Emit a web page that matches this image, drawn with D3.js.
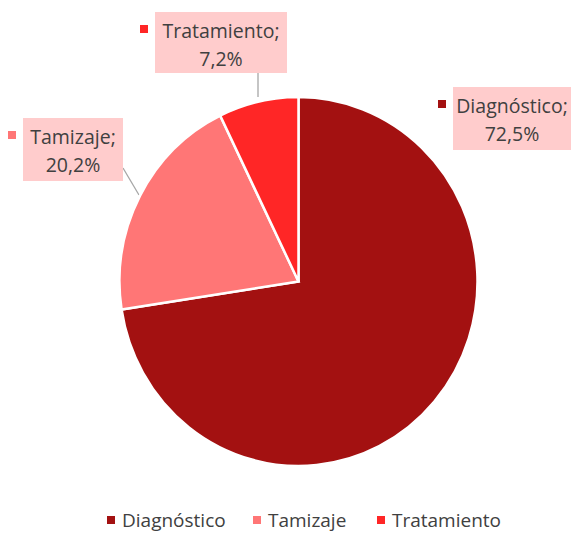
<!DOCTYPE html>
<html>
<head>
<meta charset="utf-8">
<script src="https://cdn.jsdelivr.net/npm/d3@7"></script>
<style>
  body { margin: 0; background: #fff; }
  svg text { font-family: "Open Sans", "Noto Sans", sans-serif; fill: #404040; }
</style>
</head>
<body>
<div id="chart"></div>
<script>
// chart data
const categories = ['Diagnóstico', 'Tamizaje', 'Tratamiento'];
const values = [72.5, 20.2, 7.2];
const colors = ['#A31111', '#FF7676', '#FF2626'];

const width = 576, height = 533;
const cx = 298.5, cy = 281.5;
const radius = 179;
const stretchY = 184.5 / 179;

const svg = d3.select('#chart').append('svg')
    .attr('width', width)
    .attr('height', height);

const data = categories.map((c, i) => ({ name: c, value: values[i], color: colors[i] }));

const pie = d3.pie().sort(null).value(d => d.value);
const arc = d3.arc().innerRadius(0).outerRadius(radius);
const arcs = pie(data);

// leader lines (drawn under slices)
const leaders = {
    'Tratamiento': [[258, 73], [258, 97]],
    'Tamizaje': [[123, 168], [139, 195]]
};
Object.values(leaders).forEach(pts => {
    svg.append('path')
        .attr('d', d3.line()(pts))
        .attr('stroke', '#a6a6a6')
        .attr('stroke-width', 1.3)
        .attr('fill', 'none');
});

const g = svg.append('g')
    .attr('transform', `translate(${cx},${cy}) scale(1,${stretchY})`);

g.selectAll('path.slice')
    .data(arcs)
    .enter()
    .append('path')
    .attr('class', 'slice')
    .attr('d', arc)
    .attr('fill', d => d.data.color)
    .attr('stroke', '#fff')
    .attr('stroke-width', 2.5)
    .attr('stroke-linejoin', 'miter');

// data label boxes
const boxes = {
    'Diagnóstico': { x: 453, y: 87, w: 118, h: 63 },
    'Tamizaje': { x: 23, y: 118, w: 100, h: 63 },
    'Tratamiento': { x: 155, y: 12, w: 132, h: 61 }
};

data.forEach(d => {
    const b = boxes[d.name];
    const lg = svg.append('g');
    lg.append('rect')
        .attr('x', b.x).attr('y', b.y)
        .attr('width', b.w).attr('height', b.h)
        .attr('fill', '#FFCCCC');
    lg.append('rect')
        .attr('x', b.x - 15).attr('y', b.y + 13)
        .attr('width', 8).attr('height', 8)
        .attr('fill', d.color);
    const t = lg.append('text')
        .attr('text-anchor', 'middle')
        .style('font-size', '19.5px');
    t.append('tspan')
        .attr('x', b.x + b.w / 2).attr('y', b.y + 26)
        .text(d.name + ';');
    t.append('tspan')
        .attr('x', b.x + b.w / 2).attr('y', b.y + 54)
        .text(d3.format('.1f')(d.value).replace('.', ',') + '%');
});

// legend
const legendX = [107, 253, 377];
const legend = svg.append('g');
data.forEach((d, i) => {
    legend.append('rect')
        .attr('x', legendX[i]).attr('y', 516)
        .attr('width', 8).attr('height', 8)
        .attr('fill', d.color);
    legend.append('text')
        .attr('x', legendX[i] + 15).attr('y', 527)
        .style('font-size', '19px')
        .text(d.name);
});
</script>
</body>
</html>
